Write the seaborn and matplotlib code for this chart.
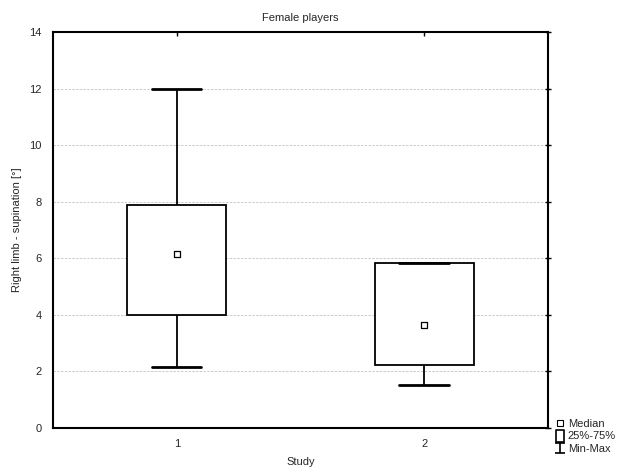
import numpy as np
import pandas as pd
import seaborn as sns
import matplotlib.pyplot as plt
from matplotlib.lines import Line2D
from matplotlib.path import Path

# min, 25%, median, 75%, max for each study
studies = ["1", "2"]
study1 = [2.15, 4.0, 6.15, 7.9, 12.0]
study2 = [1.52, 2.23, 3.64, 5.83, 5.83]
yticks = [0, 2, 4, 6, 8, 10, 12, 14]

df = pd.DataFrame({
    "Study": [studies[0]] * len(study1) + [studies[1]] * len(study2),
    "value": study1 + study2,
})
med = pd.DataFrame({"Study": studies, "value": [study1[2], study2[2]]})

sns.set_style("white")
plt.rcParams['font.family'] = ['Liberation Sans', 'DejaVu Sans']
plt.rcParams['font.size'] = 8

fig = plt.figure(figsize=(6.27, 4.76), dpi=100)
ax = fig.add_axes([0.0845, 0.1008, 0.7895, 0.832])

lw = 1.3
sns.boxplot(data=df, x="Study", y="value", whis=(0, 100), width=0.4,
            color="white", linecolor="black", linewidth=lw, fill=True,
            showcaps=True, ax=ax,
            boxprops={"facecolor": "white", "edgecolor": "black", "linewidth": lw},
            whiskerprops={"color": "black", "linewidth": lw},
            capprops={"color": "black", "linewidth": 2},
            medianprops={"visible": False}, zorder=3)
sns.scatterplot(data=med, x="Study", y="value", marker="s", s=18,
                facecolor="white", edgecolor="black", linewidth=0.9,
                ax=ax, zorder=5)

ax.set_xlim(-0.5, 1.5)
ax.set_ylim(0, 14)
ax.set_yticks(yticks)
ax.set_yticklabels([str(v) for v in yticks])
ax.yaxis.grid(True, color="#c4c4c4", linestyle=(0, (3, 1.5)), linewidth=0.6)
ax.set_axisbelow(True)
for s in ax.spines.values():
    s.set_visible(True)
    s.set_color("black")
    s.set_linewidth(1.5)
ax.tick_params(axis="x", direction="in", length=3, width=1, color="black",
               top=True, labelsize=8, pad=8)
ax.tick_params(axis="y", direction="inout", length=4, width=1, color="black",
               right=True, labelsize=8, pad=6)
ax.set_title("Female players", fontsize=8, pad=8)
ax.set_xlabel("Study", fontsize=8, labelpad=6)
ax.set_ylabel("Right limb - supination [°]", fontsize=8, labelpad=5)

# legend
ibeam = Path([(-1, 1), (1, 1), (0, 1), (0, -1), (-1, -1), (1, -1)],
             [Path.MOVETO, Path.LINETO, Path.MOVETO, Path.LINETO, Path.MOVETO, Path.LINETO])
tallbox = Path([(-0.7, -1), (0.7, -1), (0.7, 1), (-0.7, 1), (-0.7, -1)],
               [Path.MOVETO, Path.LINETO, Path.LINETO, Path.LINETO, Path.CLOSEPOLY])
handles = [
    Line2D([], [], marker="s", ms=4, mfc="white", mec="black", mew=0.8, ls="none"),
    Line2D([], [], marker=tallbox, ms=8, mfc="white", mec="black", mew=1.2, ls="none"),
    Line2D([], [], marker=ibeam, ms=7, mfc="none", mec="black", mew=1.2, ls="none"),
]
fig.legend(handles, ["Median", "25%-75%", "Min-Max"], loc="lower left",
           bbox_to_anchor=(0.886, 0.047), frameon=False, fontsize=8,
           handlelength=0.8, handletextpad=0.3, labelspacing=0.2,
           borderpad=0, borderaxespad=0)

plt.savefig("out.png", dpi=100)
